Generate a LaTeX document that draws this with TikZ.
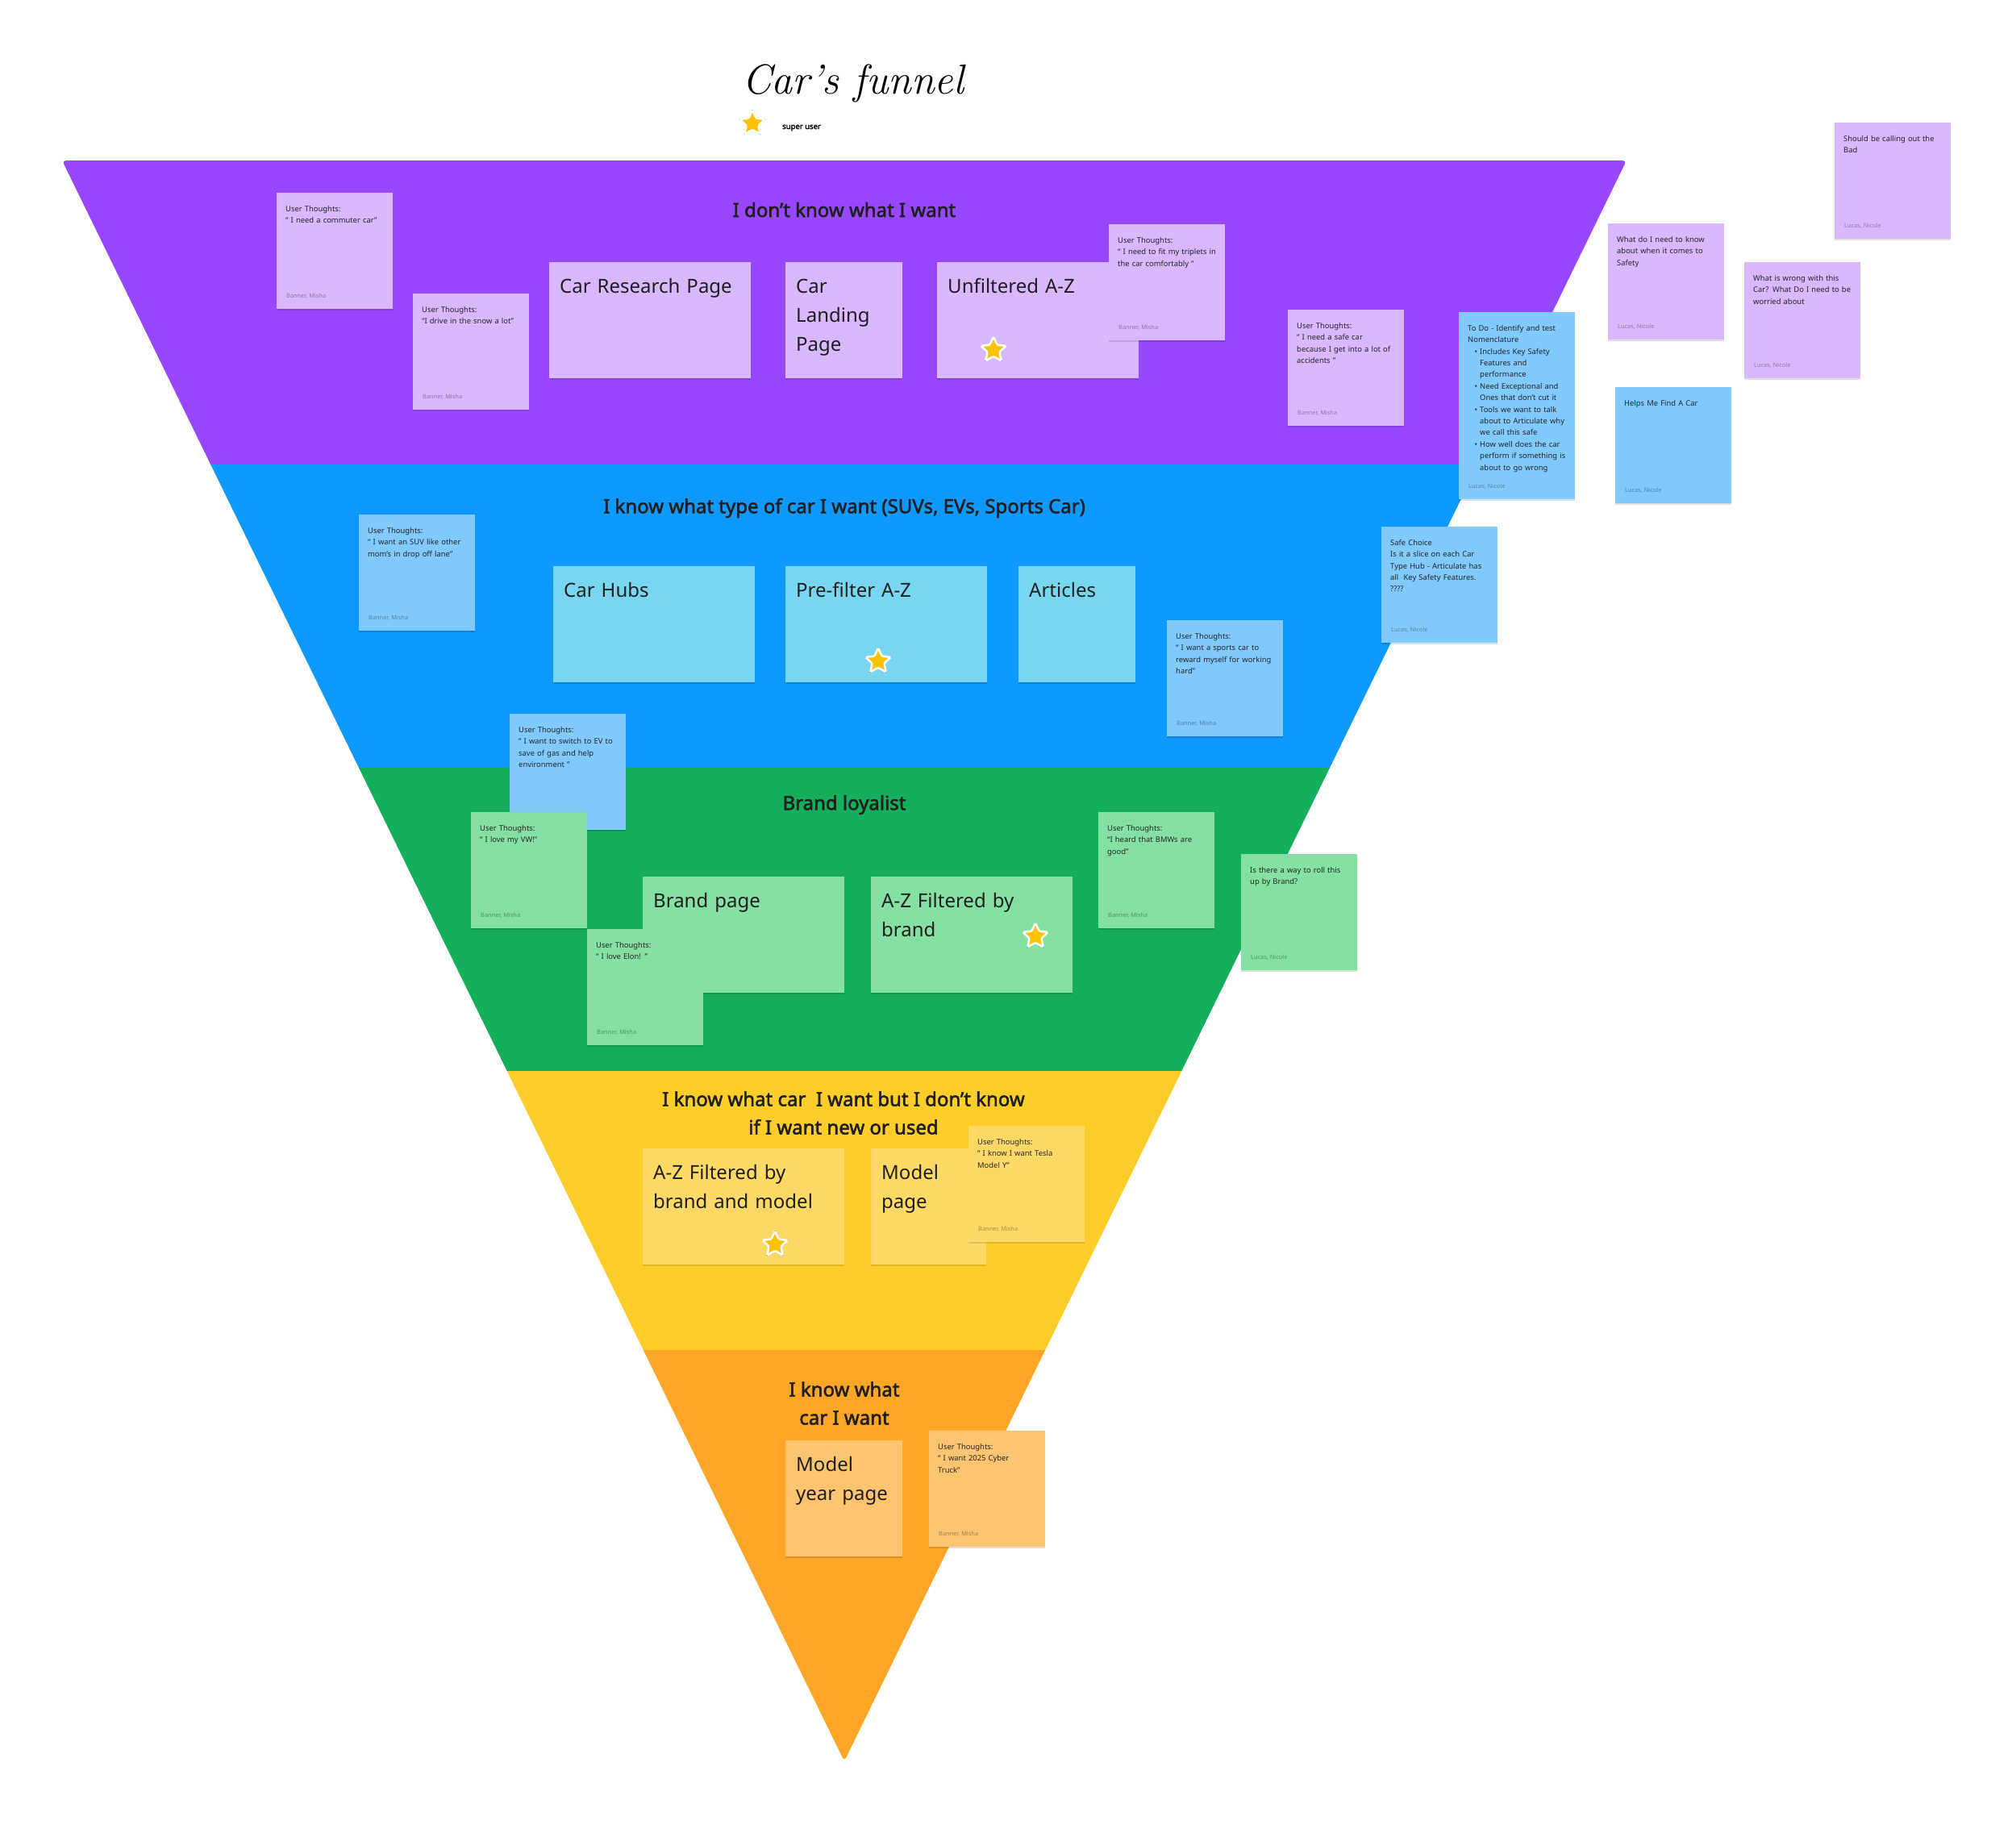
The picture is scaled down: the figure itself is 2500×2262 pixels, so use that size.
\documentclass[tikz,border=0pt]{standalone}
\usepackage{fontspec}
\setsansfont{Noto Sans}
\newfontfamily\headfont{Noto Sans}[FakeBold=2.2]
\renewcommand{\familydefault}{\sfdefault}
\usepackage{xcolor}
\usetikzlibrary{shapes.geometric, shadows}

\definecolor{bandPurple}{HTML}{9747FF}
\definecolor{bandBlue}{HTML}{0D99FF}
\definecolor{bandGreen}{HTML}{14AE5C}
\definecolor{bandYellow}{HTML}{FFCD29}
\definecolor{bandOrange}{HTML}{FFA629}
\definecolor{notePurple}{HTML}{D9B8FF}
\definecolor{noteBlue}{HTML}{80CAFF}
\definecolor{noteTeal}{HTML}{78D6F0}
\definecolor{noteGreen}{HTML}{85E0A3}
\definecolor{noteYellow}{HTML}{FFD966}
\definecolor{noteOrange}{HTML}{FFC470}
\definecolor{starGold}{HTML}{FFC200}

\begin{document}
\begin{tikzpicture}[x=1pt, y=-1pt,
    band title/.style={font=\fontsize{24}{35}\selectfont\headfont, text=black!88, align=center, inner sep=0pt},
    sticky/.style={anchor=north west, fill=#1, inner xsep=11pt, inner ysep=0pt,
        text width=122pt, text height=23pt, text depth=121pt, align=left,
        font=\fontsize{9.4}{14.4}\selectfont, text=black!85,
        drop shadow={shadow xshift=0pt, shadow yshift=-2pt, fill=black, opacity=0.12}},
    tall sticky/.style={sticky=#1, text depth=209pt},
    author/.style={anchor=base west, inner sep=0pt, font=\fontsize{7.4}{9}\selectfont, text=black, text opacity=0.35},
    page/.style={anchor=north west, fill=#1, inner xsep=13pt, inner ysep=0pt,
        text height=38pt, text depth=106pt, align=left,
        font=\fontsize{24}{36}\selectfont, text=black!88,
        drop shadow={shadow xshift=0pt, shadow yshift=-2pt, fill=black, opacity=0.12}},
    wide page/.style={text width=224pt},
    narrow page/.style={text width=119pt},
    superstar/.style={star, star points=5, star point ratio=2.1, minimum size=33pt, inner sep=0pt,
        fill=starGold, draw=white, line width=2.5pt, rounded corners=1.5pt,
        drop shadow={shadow xshift=0pt, shadow yshift=0pt, shadow scale=1.12, fill=black, opacity=0.3}}
  ]
  \fill[white] (0,0) rectangle (2500,2262);
  \useasboundingbox (0,0) rectangle (2500,2262);

  % funnel
  \begin{scope}
    \clip[rounded corners=5pt] (77,199) -- (2017,199) -- (1047,2184) -- cycle;
    \fill[bandPurple] (0,199) rectangle (2500,576);
    \fill[bandBlue] (0,576) rectangle (2500,952);
    \fill[bandGreen] (0,952) rectangle (2500,1328);
    \fill[bandYellow] (0,1328) rectangle (2500,1674);
    \fill[bandOrange] (0,1674) rectangle (2500,2262);
  \end{scope}

  % heading
  \node[anchor=base west, inner sep=0pt, font=\fontsize{52}{56}\selectfont\rmfamily\itshape] (title) at (920,116) {Car’s funnel};
  \node[superstar] (legend star) at (933,153) {};
  \node[anchor=base west, inner sep=0pt, font=\fontsize{9.5}{11}\selectfont\headfont] (legend) at (970,160) {super user};

  % band titles
  \node[band title] (stage one) at (1047,260) {I don’t know what I want};
  \node[band title] (stage two) at (1047,630) {I know what type of car I want (SUVs, EVs, Sports Car)};
  \node[band title] (stage three) at (1047,998) {Brand loyalist};
  \node[band title] (stage four) at (1046,1380) {I know what car~ I want but I don’t know\\if I want new or used};
  \node[band title] (stage five) at (1047,1740) {I know what\\car I want};

  % I don't know what I want
  \node[sticky=notePurple] (commuter) at (343,239) {User Thoughts:\\“ I need a commuter car”};
  \node[author] (commuter by) at ([shift={(12,-14)}]commuter.south west) {Banner, Misha};
  \node[sticky=notePurple] (snow) at (512,364) {User Thoughts:\\“I drive in the snow a lot”};
  \node[author] (snow by) at ([shift={(12,-14)}]snow.south west) {Banner, Misha};
  \node[page=notePurple, wide page] (research) at (681,325) {Car Research Page};
  \node[page=notePurple, narrow page] (landing) at (974,325) {Car\\Landing\\Page};
  \node[page=notePurple, wide page] (unfiltered) at (1162,325) {Unfiltered A-Z};
  \node[superstar] (unfiltered star) at (1232,434) {};
  \node[sticky=notePurple] (triplets) at (1375,278) {User Thoughts:\\“ I need to fit my triplets in\\the car comfortably ”};
  \node[author] (triplets by) at ([shift={(12,-14)}]triplets.south west) {Banner, Misha};
  \node[sticky=notePurple] (accidents) at (1597,384) {User Thoughts:\\“ I need a safe car\\because I get into a lot of\\accidents ”};
  \node[author] (accidents by) at ([shift={(12,-14)}]accidents.south west) {Banner, Misha};

  % comments on the right
  \node[sticky=notePurple] (bad) at (2275,152) {Should be calling out the\\Bad};
  \node[author] (bad by) at ([shift={(12,-14)}]bad.south west) {Lucas, Nicole};
  \node[sticky=notePurple] (safety) at (1994,277) {What do I need to know\\about when it comes to\\Safety};
  \node[author] (safety by) at ([shift={(12,-14)}]safety.south west) {Lucas, Nicole};
  \node[sticky=notePurple] (wrong) at (2163,325) {What is wrong with this\\Car? What Do I need to be\\worried about};
  \node[author] (wrong by) at ([shift={(12,-14)}]wrong.south west) {Lucas, Nicole};
  \node[sticky=noteBlue] (helps) at (2003,480) {Helps Me Find A Car};
  \node[author] (helps by) at ([shift={(12,-14)}]helps.south west) {Lucas, Nicole};
  \node[tall sticky=noteBlue] (todo) at (1809,387) {To Do - Identify and test\\Nomenclature\\
    \makebox[15pt][r]{•\hspace{3pt}}Includes Key Safety\\\hspace*{15pt}Features and\\\hspace*{15pt}performance\\
    \makebox[15pt][r]{•\hspace{3pt}}Need Exceptional and\\\hspace*{15pt}Ones that don’t cut it\\
    \makebox[15pt][r]{•\hspace{3pt}}Tools we want to talk\\\hspace*{15pt}about to Articulate why\\\hspace*{15pt}we call this safe\\
    \makebox[15pt][r]{•\hspace{3pt}}How well does the car\\\hspace*{15pt}perform if something is\\\hspace*{15pt}about to go wrong};
  \node[author] (todo by) at ([shift={(12,-14)}]todo.south west) {Lucas, Nicole};
  \node[sticky=noteBlue] (safe choice) at (1713,653) {Safe Choice\\Is it a slice on each Car\\Type Hub - Articulate has\\all~ Key Safety Features.\\????};
  \node[author] (safe choice by) at ([shift={(12,-14)}]safe choice.south west) {Lucas, Nicole};

  % I know what type of car I want
  \node[sticky=noteBlue] (suv) at (445,638) {User Thoughts:\\“ I want an SUV like other\\mom’s in drop off lane”};
  \node[author] (suv by) at ([shift={(12,-14)}]suv.south west) {Banner, Misha};
  \node[page=noteTeal, wide page] (hubs) at (686,702) {Car Hubs};
  \node[page=noteTeal, wide page] (prefilter) at (974,702) {Pre-filter A-Z};
  \node[superstar] (prefilter star) at (1089,820) {};
  \node[page=noteTeal, narrow page] (articles) at (1263,702) {Articles};
  \node[sticky=noteBlue] (sports) at (1447,769) {User Thoughts:\\“ I want a sports car to\\reward myself for working\\hard”};
  \node[author] (sports by) at ([shift={(12,-14)}]sports.south west) {Banner, Misha};
  \node[sticky=noteBlue] (ev) at (632,885) {User Thoughts:\\“ I want to switch to EV to\\save of gas and help\\environment ”};
  \node[author] (ev by) at ([shift={(12,-14)}]ev.south west) {Banner, Misha};

  % Brand loyalist
  \node[sticky=noteGreen] (vw) at (584,1007) {User Thoughts:\\“ I love my VW!”};
  \node[author] (vw by) at ([shift={(12,-14)}]vw.south west) {Banner, Misha};
  \node[page=noteGreen, wide page] (brand) at (797,1087) {Brand page};
  \node[sticky=noteGreen] (elon) at (728,1152) {User Thoughts:\\“ I love Elon! ”};
  \node[author] (elon by) at ([shift={(12,-14)}]elon.south west) {Banner, Misha};
  \node[page=noteGreen, wide page] (by brand) at (1080,1087) {A-Z Filtered by\\brand};
  \node[superstar] (by brand star) at (1284,1161) {};
  \node[sticky=noteGreen] (bmw) at (1362,1007) {User Thoughts:\\“I heard that BMWs are\\good”};
  \node[author] (bmw by) at ([shift={(12,-14)}]bmw.south west) {Banner, Misha};
  \node[sticky=noteGreen] (roll up) at (1539,1059) {Is there a way to roll this\\up by Brand?};
  \node[author] (roll up by) at ([shift={(12,-14)}]roll up.south west) {Lucas, Nicole};

  % new or used
  \node[page=noteYellow, wide page] (by model) at (797,1424) {A-Z Filtered by\\brand and model};
  \node[superstar] (by model star) at (961,1543) {};
  \node[page=noteYellow, narrow page, text width=117pt] (model) at (1080,1424) {Model\\page};
  \node[sticky=noteYellow] (tesla) at (1201,1396) {User Thoughts:\\“ I know I want Tesla\\Model Y”};
  \node[author] (tesla by) at ([shift={(12,-14)}]tesla.south west) {Banner, Misha};

  % I know what car I want
  \node[page=noteOrange, narrow page] (model year) at (974,1786) {Model\\year page};
  \node[sticky=noteOrange] (cyber) at (1152,1774) {User Thoughts:\\“ I want 2025 Cyber\\Truck”};
  \node[author] (cyber by) at ([shift={(12,-14)}]cyber.south west) {Banner, Misha};
\end{tikzpicture}
\end{document}
